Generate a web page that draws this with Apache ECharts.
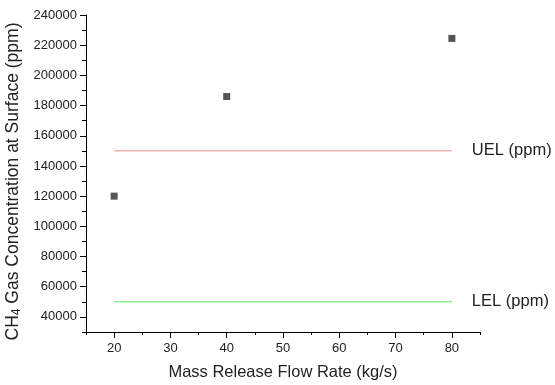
<!DOCTYPE html>
<html><head><meta charset="utf-8">
<script src="https://cdn.jsdelivr.net/npm/echarts@6/dist/echarts.min.js"></script>
<style>html,body{margin:0;padding:0;background:#fff}#c{width:555px;height:385px}</style>
</head><body><div id="c"></div>
<script>
var flowRates = [20, 40, 80];
var concentrations = [120000, 186000, 224500];
var limitX = [20, 80];
var uelValue = 150000;
var lelValue = 50000;
var uelLabel = 'UEL (ppm)';
var lelLabel = 'LEL (ppm)';
var xTitle = 'Mass Release Flow Rate (kg/s)';
var xMajorTicks = [20, 30, 40, 50, 60, 70, 80];
var xMinorTicks = [15, 25, 35, 45, 55, 65, 75, 85];
var yMajorTicks = [40000, 60000, 80000, 100000, 120000, 140000, 160000, 180000, 200000, 220000, 240000];
var yMinorTicks = [30000, 50000, 70000, 90000, 110000, 130000, 150000, 170000, 190000, 210000, 230000];

var font = 'Liberation Sans, Arial, sans-serif';
var txt = '#222';
var plain = function (v) { return String(v); };
var chart = echarts.init(document.getElementById('c'), null, {renderer: 'canvas'});
chart.setOption({
  animation: false,
  grid: {left: 86, right: 75, top: 15, bottom: 53, containLabel: false, outerBoundsMode: 'none'},
  xAxis: [{
    type: 'value', min: 15, max: 85, interval: 5,
    axisLine: {onZero: false, lineStyle: {color: '#000', width: 1}},
    axisTick: {show: true, inside: false, length: 6, customValues: xMajorTicks, lineStyle: {color: '#000'}},
    splitLine: {show: false},
    axisLabel: {color: txt, fontFamily: font, fontSize: 13, margin: 10, customValues: xMajorTicks, formatter: plain},
    name: xTitle, nameLocation: 'middle', nameGap: 32,
    nameTextStyle: {color: txt, fontFamily: font, fontSize: 16.5}
  }, {
    type: 'value', min: 15, max: 85, interval: 5, position: 'bottom', gridIndex: 0,
    axisLine: {show: false},
    axisTick: {show: true, inside: false, length: 3, customValues: xMinorTicks, lineStyle: {color: '#000'}},
    splitLine: {show: false},
    axisLabel: {show: false}
  }],
  yAxis: [{
    type: 'value', min: 30000, max: 240000, interval: 10000,
    axisLine: {onZero: false, lineStyle: {color: '#000', width: 1}},
    axisTick: {show: true, inside: false, length: 6, customValues: yMajorTicks, lineStyle: {color: '#000'}},
    splitLine: {show: false},
    axisLabel: {color: txt, fontFamily: font, fontSize: 13, margin: 9, customValues: yMajorTicks, formatter: plain},
    name: '{m|CH}{s|4}{m| Gas Concentration at Surface (ppm)}',
    nameLocation: 'middle', nameGap: 61, nameRotate: 90,
    nameTextStyle: {color: txt, fontFamily: font, fontSize: 17.5, padding: [0, 16, 0, 0],
      rich: {m: {fontFamily: font, fontSize: 17.5, color: txt},
             s: {fontFamily: font, fontSize: 12, color: txt, verticalAlign: 'bottom', padding: [8, 0, 0, 0]}}}
  }, {
    type: 'value', min: 30000, max: 240000, interval: 10000, position: 'left', gridIndex: 0,
    axisLine: {show: false},
    axisTick: {show: true, inside: false, length: 4, customValues: yMinorTicks, lineStyle: {color: '#000'}},
    splitLine: {show: false},
    axisLabel: {show: false}
  }],
  series: [
    {
      type: 'scatter', symbol: 'rect', symbolSize: 7,
      itemStyle: {color: '#555', opacity: 1},
      data: flowRates.map(function (x, i) { return [x, concentrations[i]]; })
    },
    {
      type: 'line', symbol: 'none', silent: true,
      lineStyle: {color: '#f08a8a', width: 1},
      data: limitX.map(function (x) { return [x, uelValue]; }),
      endLabel: {show: true, formatter: uelLabel, distance: 20, color: txt, fontFamily: font, fontSize: 16.5}
    },
    {
      type: 'line', symbol: 'none', silent: true,
      lineStyle: {color: '#5fe85f', width: 1},
      data: limitX.map(function (x) { return [x, lelValue]; }),
      endLabel: {show: true, formatter: lelLabel, distance: 20, color: txt, fontFamily: font, fontSize: 16.5}
    }
  ]
});
</script></body></html>
